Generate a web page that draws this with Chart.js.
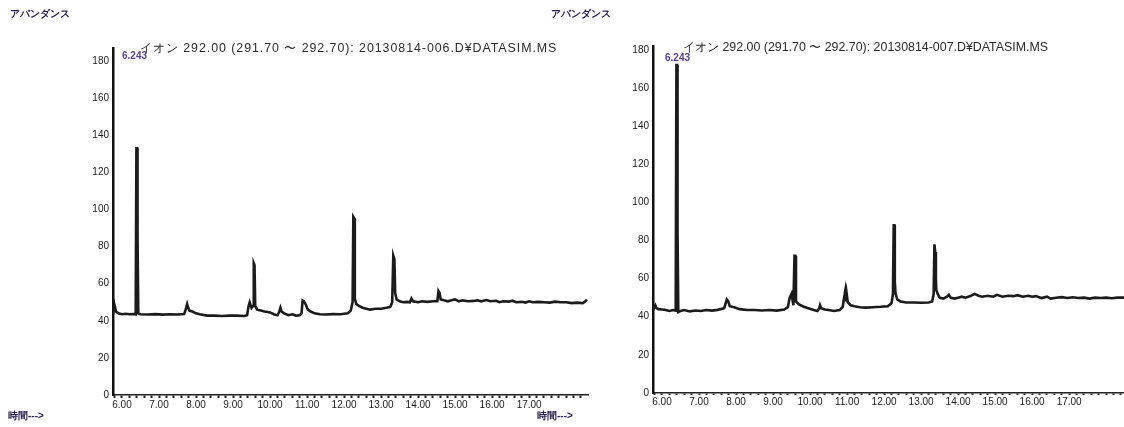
<!DOCTYPE html>
<html>
<head>
<meta charset="utf-8">
<script src="https://cdn.jsdelivr.net/npm/chart.js@4/dist/chart.umd.min.js"></script>
<style>
  html, body { margin:0; padding:0; background:#fff; }
  body { width:1124px; height:427px; overflow:hidden; position:relative; font-family:'Liberation Sans', Arial, sans-serif; }
  canvas { position:absolute; top:0; }
  .t { position:absolute; white-space:nowrap; line-height:1; }
  .lab { color:#2b1d52; font-size:10px; font-weight:bold; }
  .ttl { color:#2a2a2a; font-size:12.4px; }
  .rt { color:#5b3f8c; font-size:10px; font-weight:bold; }
</style>
</head>
<body>
<canvas id="c1" width="600" height="427" style="left:0px"></canvas>
<canvas id="c2" width="600" height="427" style="left:540px"></canvas>

<div class="t lab" style="left:10px; top:9px;">アバンダンス</div>
<div class="t lab" style="left:551px; top:9px;">アバンダンス</div>
<div class="t ttl" style="left:140px; top:42px; letter-spacing:0.95px;">イオン 292.00 (291.70 〜 292.70): 20130814-006.D¥DATASIM.MS</div>
<div class="t ttl" style="left:683px; top:41px;">イオン 292.00 (291.70 〜 292.70): 20130814-007.D¥DATASIM.MS</div>
<div class="t rt" style="left:122px; top:51px;">6.243</div>
<div class="t rt" style="left:665px; top:53px;">6.243</div>
<div class="t lab" style="left:8px; top:411px;">時間---&gt;</div>
<div class="t lab" style="left:537px; top:411px;">時間---&gt;</div>

<script>
// ---- data ----
const timesA = [5.76,5.79,5.81,5.84,5.9,6.0,6.1,6.2,6.3,6.37,6.39,6.41,6.42,6.44,6.5,6.7,6.9,7.1,7.3,7.5,7.68,7.72,7.76,7.79,7.82,7.9,8.0,8.1,8.3,8.5,8.7,8.9,9.1,9.3,9.38,9.42,9.45,9.5,9.54,9.56,9.58,9.6,9.65,9.75,9.85,10.0,10.1,10.2,10.25,10.28,10.31,10.38,10.5,10.6,10.7,10.8,10.85,10.88,10.92,10.97,11.02,11.1,11.2,11.35,11.5,11.7,11.9,12.1,12.18,12.23,12.25,12.28,12.29,12.33,12.4,12.5,12.6,12.7,12.85,13.0,13.15,13.25,13.3,13.33,13.36,13.38,13.42,13.5,13.6,13.7,13.78,13.82,13.86,14.0,14.1,14.25,14.4,14.52,14.55,14.58,14.61,14.7,14.8,14.9,15.0,15.1,15.2,15.35,15.5,15.6,15.7,15.85,15.95,16.1,16.2,16.3,16.45,16.55,16.65,16.8,16.9,17.0,17.1,17.25,17.4,17.55,17.7,17.85,18.0,18.15,18.3,18.45,18.52,18.56];
const valuesA = [44,46,47.5,45,44,43.5,43.8,43.5,43.6,43.5,133,133,85,44,43.5,43.4,43.6,43.3,43.5,43.4,43.6,46,49,47,45.5,45,44,43.5,42.8,42.8,42.6,42.8,42.8,42.6,43,48,50,47,48,71,70,48,46,45.5,45,44.5,43.5,43,45,47,45,44,43,43.5,42.8,43,44,51,50.5,48.5,46,45,44,43.5,43.4,43.6,43.5,44,45.5,50,96,95,52,49,48,47,46.5,46,46.5,46.5,47,47.5,50,75,73,55,51.5,50.5,50,50.2,50,52,50.5,50,50.5,50.2,50.5,50.5,56,55,51.5,51,50.5,51,51.5,50.5,51,50.5,50.7,51,50.5,51.2,50.5,50.8,50,50.5,50.3,50.8,50,50.2,49.8,50.5,50,50.2,50,49.8,50.3,50,50,49.5,49.8,49.5,50.5,51.5];

const timesB = [5.76,5.79,5.82,5.85,5.9,6.0,6.1,6.2,6.3,6.37,6.39,6.41,6.42,6.44,6.5,6.6,6.75,6.9,7.05,7.2,7.35,7.5,7.68,7.75,7.79,7.83,7.95,8.1,8.3,8.5,8.7,8.9,9.1,9.3,9.4,9.45,9.5,9.55,9.58,9.6,9.62,9.7,9.8,9.95,10.1,10.2,10.25,10.27,10.3,10.4,10.5,10.65,10.8,10.88,10.92,10.95,10.97,10.99,11.02,11.1,11.2,11.35,11.5,11.7,11.9,12.1,12.2,12.24,12.26,12.28,12.29,12.31,12.36,12.45,12.6,12.8,13.0,13.2,13.3,13.34,13.36,13.38,13.4,13.41,13.45,13.5,13.6,13.7,13.75,13.8,13.9,14.0,14.1,14.2,14.35,14.45,14.55,14.65,14.8,14.95,15.05,15.2,15.35,15.5,15.6,15.75,15.9,16.0,16.1,16.25,16.4,16.5,16.65,16.8,16.95,17.1,17.25,17.4,17.55,17.7,17.85,18.0,18.15,18.3,18.5];
const valuesB = [43.5,45,46,44.5,44,43.8,43.5,43,43.5,43.2,172,172,84,42.5,43,43.5,42.8,43.3,43,43.5,43.2,43.6,44.5,49,48,45.5,45,44,43.5,43.5,43.3,43.5,43.2,43.8,45,50,52,46,72,72,48,46.5,45.5,44.5,43.5,43,44.5,46,44.5,43.8,43.5,43,43.5,45,50,53.5,48,52,47.5,46,45.5,45,44.8,45,45.2,45.5,47,52,88,88,58,52,49,48,47.5,47.5,47.3,47.5,48,52,78,74,60,54,52,50,49.5,50.5,51.5,50,49.5,50,50.5,50,51,52,51,50.5,51,50.5,51.5,50.5,51,50.8,51.3,50.5,51,50.5,50.8,49.8,50.5,49.5,50,50.3,49.8,50.2,49.8,50,49.5,50,49.8,50,49.7,50,50];

const xTickValues = [];
for (let i = 0; i <= 63; i++) xTickValues.push(Math.round((5.8 + i * 0.2) * 10) / 10);
const xLabelValues = [6,7,8,9,10,11,12,13,14,15,16,17];
const yTickValues = [0,20,40,60,80,100,120,140,160,180];

function makeChart(id, times, values, cfg) {
  const data = times.map((t, i) => ({ x: t, y: values[i] }));
  return new Chart(document.getElementById(id), {
    type: 'line',
    data: { datasets: [{ data, borderColor: '#1b1b1b', borderWidth: 2.6, pointRadius: 0, tension: 0, fill: false }] },
    options: {
      responsive: false, animation: false,
      layout: { padding: { left: 0, right: cfg.padRight, top: cfg.top, bottom: 0 } },
      plugins: { legend: { display: false }, tooltip: { enabled: false } },
      scales: {
        x: {
          type: 'linear', min: 5.757, max: cfg.xmax,
          afterFit: s => { s.height = cfg.xh; },
          afterBuildTicks: s => { s.ticks = xTickValues.map(v => ({ value: v })); },
          grid: { drawOnChartArea: false, drawTicks: true, tickLength: cfg.tickLen, tickWidth: 2, color: '#222' },
          border: { display: true, color: '#222', width: 1.5 },
          ticks: {
            autoSkip: false, maxRotation: 0, minRotation: 0, padding: 1,
            color: '#1a1a1a', font: { family: "'Liberation Sans', Arial", size: 10 },
            callback: v => xLabelValues.some(l => Math.abs(l - v) < 1e-6) ? Number(v).toFixed(2) : ''
          }
        },
        y: {
          min: 0, max: cfg.ymax,
          afterFit: s => { s.width = 113; },
          afterBuildTicks: s => { s.ticks = yTickValues.map(v => ({ value: v })); },
          grid: { display: false, drawTicks: false },
          border: { display: true, color: '#111', width: 2.5 },
          ticks: { padding: 4, color: '#1a1a1a', font: { family: "'Liberation Sans', Arial", size: 10 } }
        }
      }
    }
  });
}

makeChart('c1', timesA, valuesA, { top: 48, ymax: 187, xmax: 18.59, xh: 32, padRight: 12, tickLen: 3 });
makeChart('c2', timesB, valuesB, { top: 46, ymax: 182, xmax: 18.59, xh: 34, padRight: 12, tickLen: 2 });
</script>
</body>
</html>
